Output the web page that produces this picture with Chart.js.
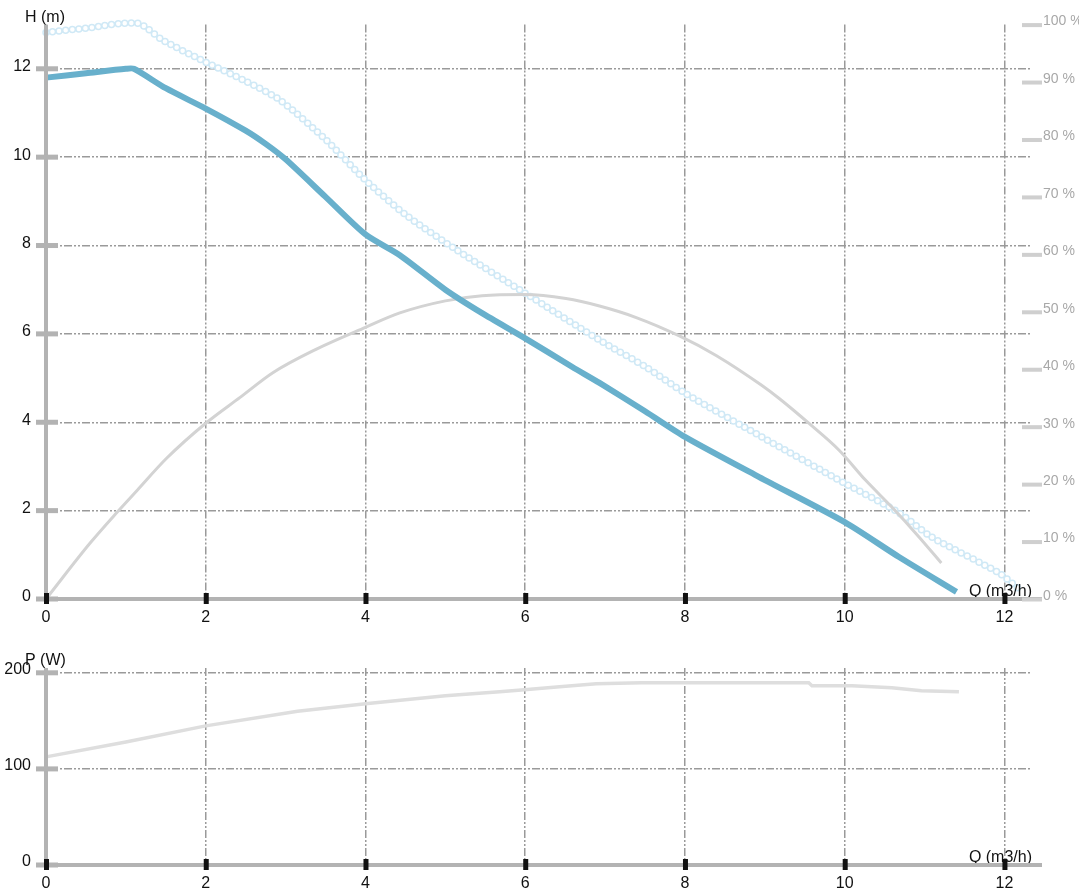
<!DOCTYPE html>
<html>
<head>
<meta charset="utf-8">
<script src="https://cdn.jsdelivr.net/npm/chart.js@4.4.0/dist/chart.umd.min.js"></script>
<style>
  body { margin: 0; background: #fff; }
  #topBox { position: absolute; left: 0; top: 0; width: 1079px; height: 630px; }
  #botBox { position: absolute; left: 0; top: 640px; width: 1079px; height: 252px; }
</style>
</head>
<body>
<div id="topBox"><canvas id="headChart"></canvas></div>
<div id="botBox"><canvas id="powerChart"></canvas></div>
<script>
// pump curves
const qHead = [0, 0.5, 1.0, 1.1, 1.5, 2.0, 2.5, 2.75, 3.0, 3.5, 4.0, 4.43, 5.0, 5.46, 6.0, 6.59, 6.93, 7.5, 8.0, 8.93, 10.0, 10.68, 11.4];
const head = [11.8, 11.9, 12.0, 12.0, 11.56, 11.1, 10.6, 10.3, 9.95, 9.1, 8.25, 7.78, 7.0, 6.47, 5.9, 5.25, 4.89, 4.25, 3.67, 2.76, 1.74, 0.95, 0.16];

const qMax = [0, 0.5, 1.15, 1.46, 2.0, 2.5, 2.93, 3.5, 4.0, 4.5, 5.14, 6.0, 6.93, 7.51, 8.0, 8.96, 10.0, 10.68, 11.09, 11.93, 12.2];
const headMax = [12.82, 12.92, 13.03, 12.65, 12.15, 11.72, 11.29, 10.4, 9.48, 8.7, 7.9, 6.92, 5.86, 5.25, 4.66, 3.67, 2.62, 1.95, 1.4, 0.59, 0.2];

const qEff = [0, 0.55, 0.89, 1.14, 1.51, 2.0, 2.43, 2.84, 3.34, 4.0, 4.43, 5.0, 5.46, 6.0, 6.51, 6.93, 7.39, 7.93, 8.39, 8.96, 9.18, 9.55, 9.93, 10.26, 10.59, 10.93, 11.21];
const eff = [0, 9.7, 15.1, 18.9, 24.5, 30.6, 35.1, 39.4, 43.2, 47.3, 49.8, 51.9, 52.8, 53.0, 52.3, 51.0, 49.0, 45.8, 42.4, 37.2, 34.9, 30.6, 25.9, 20.7, 16.0, 10.8, 6.25];

const qPow = [0, 1.0, 2.0, 3.15, 4.0, 5.0, 5.68, 5.99, 6.43, 6.89, 7.46, 8.0, 9.55, 9.59, 10.09, 10.59, 10.96, 11.43];
const power = [112.5, 128, 144.8, 160, 167.7, 176, 180.2, 182.3, 185.4, 188.5, 189.6, 189.6, 189.6, 186.5, 186.5, 184.4, 181.3, 180.2];

const qTicks = [0, 2, 4, 6, 8, 10, 12];
const hTicks = [0, 2, 4, 6, 8, 10, 12];
const effTicks = [0, 10, 20, 30, 40, 50, 60, 70, 80, 90, 100];
const pTicks = [0, 100, 200];

Chart.defaults.font.family = "'Liberation Sans', Arial, sans-serif";
Chart.defaults.font.size = 16;
Chart.defaults.color = "#111";
Chart.defaults.animation = false;

const gridGray = "#9a9a9a";
const axisGray = "#b3b3b3";
const gridDash = [8, 2, 2, 2, 2, 2];

function pts(xs, ys) {
    return xs.map((x, i) => ({ x: x, y: ys[i] }));
}

function fixTicks(list) {
    return s => { s.ticks = list.map(v => ({ value: v })); };
}

// draws axis lines, tick bars and axis titles
function decor(yTitle, rightId) {
    return {
        id: "decor",
        afterDraw(chart) {
            const c = chart.ctx;
            const a = chart.chartArea;
            const xs = chart.scales.x;
            const ys = chart.scales.y;
            c.save();
            c.fillStyle = "#111";
            c.font = "16px 'Liberation Sans', Arial, sans-serif";
            c.textBaseline = "alphabetic";
            c.textAlign = "left";
            c.fillText(yTitle, a.left - 21, a.top - 3);
            c.textAlign = "right";
            c.fillText("Q (m3/h)", a.right + 2, a.bottom - 3);

            c.fillStyle = axisGray;
            c.fillRect(a.left - 2, a.top, 4, a.bottom - a.top);
            c.fillRect(a.left - 10, a.bottom - 2, a.right - a.left + 22, 4);
            ys.ticks.forEach(t => {
                const y = ys.getPixelForValue(t.value);
                c.fillRect(a.left - 10, y - 2.5, 22, 5);
            });
            if (rightId) {
                const rs = chart.scales[rightId];
                c.fillStyle = "#cfcfcf";
                rs.ticks.forEach(t => {
                    const y = rs.getPixelForValue(t.value);
                    c.fillRect(a.right - 8, y - 1.5, 20, 4);
                });
            }
            c.fillStyle = "#111";
            xs.ticks.forEach(t => {
                const x = xs.getPixelForValue(t.value);
                c.fillRect(x - 2, a.bottom - 6, 5, 11);
            });
            c.restore();
        }
    };
}

function xAxis(h) {
    return {
        type: "linear",
        min: 0,
        max: 12.32,
        afterFit: s => { s.height = h; },
        afterBuildTicks: fixTicks(qTicks),
        grid: { color: gridGray, lineWidth: 1.5, drawTicks: false },
        border: { display: false, dash: gridDash },
        ticks: { padding: 9, maxRotation: 0 }
    };
}

new Chart(document.getElementById("headChart"), {
    type: "line",
    data: {
        datasets: [
            {
                data: pts(qHead, head),
                borderColor: "#68b0cc",
                borderWidth: 6,
                pointRadius: 0,
                tension: 0.25,
                yAxisID: "y",
                order: 0
            },
            {
                data: pts(qEff, eff),
                borderColor: "#d3d3d3",
                borderWidth: 3,
                pointRadius: 0,
                cubicInterpolationMode: "monotone",
                yAxisID: "yEff",
                order: 1
            },
            {
                // chain of hollow rings: white dots over pale blue dots
                data: pts(qMax, headMax),
                borderColor: "#ffffff",
                borderWidth: 4.5,
                borderDash: [0, 6.6],
                borderCapStyle: "round",
                pointRadius: 0,
                tension: 0.25,
                yAxisID: "y",
                order: 2
            },
            {
                data: pts(qMax, headMax),
                borderColor: "#d0e9f6",
                borderWidth: 7.5,
                borderDash: [0, 6.6],
                borderCapStyle: "round",
                pointRadius: 0,
                tension: 0.25,
                yAxisID: "y",
                order: 3
            }
        ]
    },
    options: {
        responsive: true,
        maintainAspectRatio: false,
        clip: false,
        layout: { padding: { top: 23, left: 0, right: 0, bottom: 0 } },
        plugins: { legend: { display: false }, tooltip: { enabled: false } },
        scales: {
            x: xAxis(31),
            y: {
                min: 0,
                max: 13,
                position: "left",
                afterFit: s => { s.width = 46; },
                afterBuildTicks: fixTicks(hTicks),
                grid: { color: gridGray, lineWidth: 1.5, drawTicks: false },
                border: { display: false, dash: gridDash },
                ticks: { padding: 15, labelOffset: -2 }
            },
            yEff: {
                min: 0,
                max: 100,
                position: "right",
                afterFit: s => { s.width = 49; },
                afterBuildTicks: fixTicks(effTicks),
                grid: { drawOnChartArea: false, drawTicks: false },
                border: { display: false },
                ticks: {
                    padding: 13,
                    labelOffset: -3,
                    color: "#a8a8a8",
                    font: { size: 14 },
                    callback: v => v + " %"
                }
            }
        }
    },
    plugins: [decor("H (m)", "yEff")]
});

new Chart(document.getElementById("powerChart"), {
    type: "line",
    data: {
        datasets: [
            {
                data: pts(qPow, power),
                borderColor: "#dedede",
                borderWidth: 3.5,
                pointRadius: 0,
                tension: 0
            }
        ]
    },
    options: {
        responsive: true,
        maintainAspectRatio: false,
        clip: false,
        layout: { padding: { top: 28, left: 0, right: 49, bottom: 0 } },
        plugins: { legend: { display: false }, tooltip: { enabled: false } },
        scales: {
            x: xAxis(27),
            y: {
                min: 0,
                max: 205,
                afterFit: s => { s.width = 46; },
                afterBuildTicks: fixTicks(pTicks),
                grid: { color: gridGray, lineWidth: 1.5, drawTicks: false },
                border: { display: false, dash: gridDash },
                ticks: { padding: 15, labelOffset: -3 }
            }
        }
    },
    plugins: [decor("P (W)", null)]
});
</script>
</body>
</html>
